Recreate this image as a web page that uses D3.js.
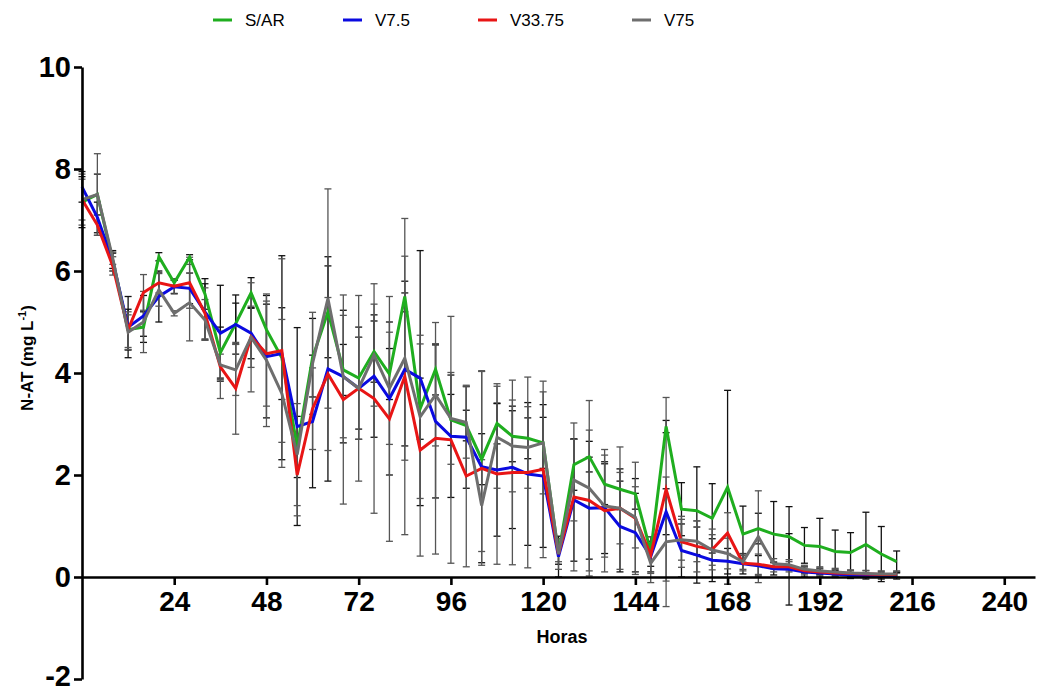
<!DOCTYPE html>
<html><head><meta charset="utf-8">
<script src="https://cdn.jsdelivr.net/npm/d3@7"></script>
<style>
body{margin:0;background:#fff;}
svg{display:block;font-family:"Liberation Sans",Arial,sans-serif;}
</style></head>
<body><svg id="chart" width="1038" height="691"></svg>
<script>
const hours = d3.range(0, 213, 4);
const seriesNames = ["S/AR","V7.5","V33.75","V75"];
const seriesColors = ["#1fae1f","#0a0ae0","#e81515","#6e6e6e"];
const errColors = ["#111","#111","#555","#555"];
const xTicks = [24,48,72,96,120,144,168,192,216,240];
const yTicks = [-2,0,2,4,6,8,10];

const sAR = [7.35,7.5,6.2,4.85,4.9,6.28,5.77,6.27,5.55,4.4,4.97,5.57,4.85,4.3,2.55,4.3,5.2,4.06,3.9,4.42,3.98,5.5,3.3,4.07,3.08,2.97,2.31,3.01,2.76,2.72,2.63,0.45,2.2,2.36,1.82,1.72,1.63,0.5,2.95,1.33,1.3,1.15,1.76,0.84,0.95,0.84,0.79,0.62,0.6,0.5,0.48,0.64,0.45,0.3];
const v75a = [7.65,7.05,6.2,4.9,5.12,5.5,5.69,5.66,5.2,4.78,4.95,4.78,4.32,4.38,2.95,3.05,4.08,3.93,3.7,3.94,3.5,4.07,3.9,3.05,2.76,2.74,2.16,2.1,2.15,2.02,1.98,0.4,1.51,1.35,1.36,0.99,0.87,0.4,1.28,0.52,0.43,0.33,0.31,0.26,0.22,0.16,0.15,0.1,0.08,0.06,0.03,0.02,0.02,0.02];
const v3375 = [7.4,6.9,6.1,4.85,5.58,5.77,5.7,5.77,5.17,4.12,3.7,4.71,4.38,4.44,2.0,3.3,3.98,3.48,3.7,3.5,3.1,3.93,2.49,2.72,2.69,1.98,2.13,2.02,2.05,2.05,2.11,0.45,1.57,1.5,1.3,1.35,1.15,0.43,1.72,0.69,0.6,0.54,0.86,0.27,0.25,0.2,0.2,0.12,0.1,0.08,0.07,0.06,0.05,0.05];
const v75 = [7.4,7.5,6.25,4.8,5.0,5.63,5.17,5.38,5.04,4.16,4.06,4.7,4.25,3.6,2.4,4.19,5.46,3.93,3.7,4.35,3.7,4.29,3.14,3.57,3.11,3.03,1.4,2.74,2.57,2.54,2.63,0.45,1.9,1.74,1.39,1.35,1.17,0.27,0.69,0.73,0.7,0.53,0.46,0.3,0.79,0.26,0.24,0.15,0.12,0.1,0.08,0.07,0.06,0.06];

const sdSAR = [0.5,0.4,0.15,0.4,0.3,0.08,0.05,0.05,0.3,0.5,0.4,0.3,0.5,2.0,0.6,0.77,0.9,0.5,1.0,0.6,0.5,0.3,0.6,0.5,0.5,0.3,0.5,0.4,0.5,0.4,0.5,0.2,0.5,0.3,0.4,0.4,0.3,0.29,0.12,0.52,0.86,0.68,1.9,0.55,0.3,0.64,0.59,0.35,0.55,0.42,0.39,0.63,0.54,0.21];
const sdV75a = [0.3,0.3,0.2,0.6,0.4,0.5,0.13,0.3,0.55,0.94,0.58,0.5,1.2,0.9,1.94,1.3,2.2,1.3,1.0,1.2,1.5,1.5,2.5,1.5,1.2,1.0,1.88,1.3,1.2,1.4,1.4,0.4,1.2,1.0,0.9,0.89,0.77,0.3,0.45,0.52,0.55,0.42,0.25,0.2,0.2,0.12,0.7,0.1,0.08,0.07,0.06,0.06,0.06,0.06];
const sdV3375 = [0.4,0.2,0.18,0.35,0.35,0.2,0.15,0.5,0.5,0.25,0.9,0.6,1.03,1.8,0.8,0.8,1.5,2.05,1.0,2.25,2.4,3.1,2.08,2.27,2.42,1.78,1.9,1.77,1.81,1.87,1.73,0.15,1.45,1.38,1.2,1.2,1.1,0.36,1.8,0.5,0.5,0.4,0.4,0.15,0.2,0.1,0.1,0.08,0.08,0.07,0.06,0.06,0.06,0.06];
const sdV75 = [0.5,0.8,0.12,0.34,0.6,0.32,0.05,0.75,0.4,0.66,0.5,1.07,1.3,1.45,1.0,1.0,2.15,1.2,1.82,1.0,1.1,2.0,1.6,1.0,0.9,0.7,0.9,1.0,0.9,0.8,1.0,0.3,0.8,1.72,1.0,0.7,0.6,0.38,1.27,0.4,0.4,0.3,0.3,0.15,0.9,0.1,0.1,0.08,0.08,0.07,0.06,0.06,0.06,0.06];

const values = [sAR, v75a, v3375, v75];
const sds = [sdSAR, sdV75a, sdV3375, sdV75];

const svg = d3.select("#chart");
const x = d3.scaleLinear().domain([0, 248]).range([82, 1035]);
const y = d3.scaleLinear().domain([-2, 10]).range([679, 67]);

// error bars
const eb = svg.append("g");
values.forEach((vals, si) => {
  const g = eb.append("g").attr("stroke", errColors[si]).attr("stroke-width", 1.3).attr("fill","none");
  vals.forEach((v, i) => {
    const sd = sds[si][i];
    const cx = x(hours[i]);
    g.append("line").attr("x1", cx).attr("x2", cx).attr("y1", y(v + sd)).attr("y2", y(v - sd));
    g.append("line").attr("x1", cx-3.5).attr("x2", cx+3.5).attr("y1", y(v + sd)).attr("y2", y(v + sd));
    g.append("line").attr("x1", cx-3.5).attr("x2", cx+3.5).attr("y1", y(v - sd)).attr("y2", y(v - sd));
  });
});

// lines
const line = d3.line().x((d,i) => x(hours[i])).y(d => y(d));
values.forEach((vals, si) => {
  svg.append("path").datum(vals).attr("d", line)
    .attr("fill","none").attr("stroke", seriesColors[si])
    .attr("stroke-width", 3).attr("stroke-linejoin","miter");
});

// axes
const yAxis = d3.axisLeft(y).tickValues(yTicks).tickSize(8).tickSizeOuter(0).tickPadding(3).tickFormat(d => String(d));
const gy = svg.append("g").attr("transform", `translate(${x(0)},0)`).call(yAxis);
gy.select(".domain").attr("stroke-width", 2.6);
gy.selectAll(".tick line").attr("stroke-width", 2.6);
gy.selectAll("text").attr("font-size", 29).attr("font-weight","bold").attr("fill","#000")
  .attr("font-family","'Liberation Sans',Arial,sans-serif");
gy.selectAll(".tick").filter(d => d === -2).select("text").attr("dy", "0.22em");

const xAxis = d3.axisBottom(x).tickValues(xTicks).tickSize(8).tickSizeOuter(0).tickPadding(6);
const gx = svg.append("g").attr("transform", `translate(0,${y(0)})`).call(xAxis);
gx.select(".domain").attr("stroke-width", 2.6);
gx.selectAll(".tick line").attr("stroke-width", 2.6);
gx.selectAll("text").attr("font-size", 28).attr("font-weight","bold").attr("fill","#000")
  .attr("font-family","'Liberation Sans',Arial,sans-serif");

// axis titles
svg.append("text").attr("x", 562).attr("y", 643).attr("text-anchor","middle")
  .attr("font-size", 18).attr("font-weight","bold").text("Horas");
const yt = svg.append("text").attr("transform","translate(33,358) rotate(-90)")
  .attr("text-anchor","middle").attr("font-size",17).attr("font-weight","bold");
yt.append("tspan").text("N-AT (mg L");
yt.append("tspan").attr("font-size",11).attr("dy",-7).text("-1");
yt.append("tspan").attr("dy",7).text(")");

// legend
const legX = [213, 343, 478, 632];
seriesNames.forEach((n, i) => {
  svg.append("line").attr("x1", legX[i]).attr("x2", legX[i]+19).attr("y1", 20).attr("y2", 20)
    .attr("stroke", seriesColors[i]).attr("stroke-width", 3);
  svg.append("text").attr("x", legX[i]+32).attr("y", 26).attr("font-size", 17).text(n);
});
</script></body></html>
